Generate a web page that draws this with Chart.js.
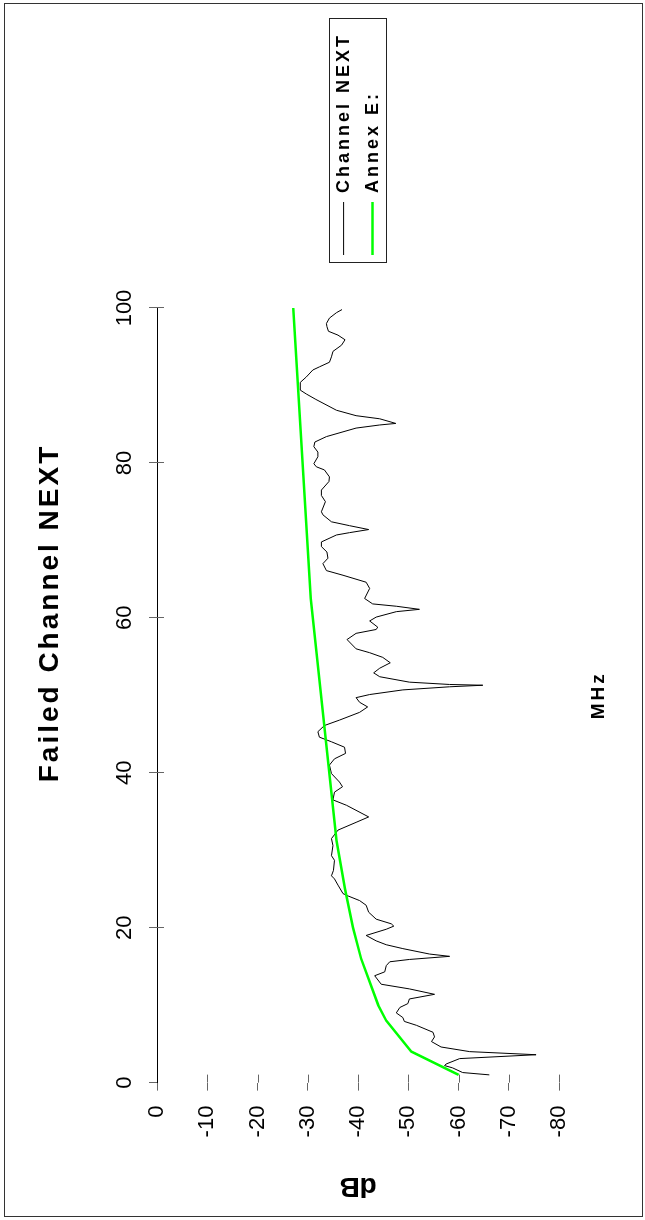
<!DOCTYPE html>
<html><head><meta charset="utf-8">
<script src="https://cdn.jsdelivr.net/npm/chart.js@4/dist/chart.umd.min.js"></script>
<style>
html,body{margin:0;padding:0;background:#fff;overflow:hidden;width:645px;height:1220px}
#wrap{position:absolute;left:0;top:0;width:1220px;height:645px;overflow:hidden;transform-origin:0 0;transform:translate(0,1220px) rotate(-90deg)}
canvas{display:block}
</style></head><body>
<div id="wrap"><canvas id="c" width="1220" height="645"></canvas></div>
<script>
// ---- data ----
const chartTitle = 'Failed Channel NEXT';
const xTitle = 'MHz';
const yTitle = 'dB';
const seriesNames = ['Channel NEXT', 'Annex E:'];
const mhzTicks = [0, 20, 40, 60, 80, 100];
const dbTicks = [0, -10, -20, -30, -40, -50, -60, -70, -80];

const nextFreq = [1.0,1.3,1.9,2.2,2.4,3.1,3.6,4.0,4.6,5.3,5.9,6.5,7.4,7.9,8.4,9.0,9.7,10.2,10.8,11.4,12.1,12.7,13.8,
 14.3,15.1,15.6,15.9,16.3,16.6,17.3,17.8,18.3,19.0,19.8,20.2,20.5,21.1,22.0,22.9,23.5,24.1,24.4,25.5,26.3,26.7,27.4,28.7,
 29.3,30.6,31.5,32.6,33.6,34.3,35.8,36.5,37.5,38.2,38.8,39.9,41.0,41.8,42.5,43.3,
 44.0,44.6,45.3,46.1,46.8,47.8,48.5,49.1,49.7,50.1,50.7,51.1,51.3,51.4,51.7,52.4,52.9,53.5,54.2,54.9,55.5,56.0,57.2,58.0,58.5,
 58.8,59.6,60.1,60.8,61.1,61.5,61.8,62.5,63.8,64.6,65.5,66.1,67.0,67.7,68.5,69.2,69.8,70.7,71.0,71.4,71.9,72.4,73.3,
 73.7,75.0,75.8,76.5,77.6,78.2,79.1,79.5,79.9,80.8,81.4,82.1,82.7,83.4,84.5,84.9,85.1,85.7,86.1,86.8,88.2,
 88.9,89.4,90.4,91.1,92.0,92.4,93.0,93.7,94.4,95.2,95.9,96.5,97.0,97.6,98.0,98.7,99.4,99.8];
const nextDb = [-66.1,-60.8,-58.8,-57.2,-57.5,-60.2,-75.4,-62.2,-56.5,-54.6,-55.2,-54.9,-51.6,-49.2,-48.9,-47.6,-48.3,-49.9,-50.2,-55.2,-50.2,-44.6,-43.3,
 -45.3,-45.6,-46.3,-50.2,-58.2,-54.2,-48.9,-45.6,-43.6,-41.6,-45.6,-47.1,-46.6,-43.6,-42.1,-41.6,-40.3,-38.0,-37.0,-36.0,-35.3,-34.7,-35.1,-35.3,
 -34.7,-35.0,-34.7,-36.0,-39.6,-42.1,-37.7,-35.0,-35.3,-36.9,-36.3,-34.7,-34.3,-35.3,-37.5,-37.3,
 -34.7,-32.3,-32.0,-33.3,-36.3,-40.3,-41.9,-40.3,-39.6,-42.3,-48.9,-58.2,-64.8,-58.2,-50.2,-44.3,-43.1,-44.3,-46.4,-44.9,-42.3,-39.6,-37.8,-39.6,-43.6,
 -43.9,-42.3,-43.6,-47.6,-52.2,-47.6,-42.9,-41.3,-42.3,-41.6,-37.0,-33.7,-33.0,-34.0,-33.8,-32.7,-32.7,-35.7,-38.3,-42.1,-38.3,-34.7,-33.0,
 -32.7,-33.5,-32.7,-32.7,-34.2,-34.3,-33.3,-31.7,-31.2,-32.0,-32.0,-31.2,-31.4,-33.7,-39.6,-44.3,-47.5,-44.3,-39.6,-35.7,-31.6,
 -29.7,-28.5,-28.5,-29.7,-31.0,-32.3,-34.3,-34.7,-35.0,-36.7,-37.4,-36.0,-34.1,-33.8,-33.7,-34.3,-35.7,-36.8];

const annexFreq = [1, 4, 8, 10, 16, 20, 25, 31.25, 62.5, 100];
const annexDb = [-60.0, -50.6, -45.6, -44.0, -40.6, -39.0, -37.4, -35.7, -30.6, -27.1];

// ---- helpers ----
const toPoints = (xs, ys) => xs.map((x, i) => ({x: x, y: ys[i]}));
const setTicks = arr => (scale) => { scale.ticks = arr.map(v => ({value: v})); };

Chart.defaults.font.family = "'Liberation Sans', Arial, sans-serif";
Chart.defaults.color = '#000';

const helperPlugin = {
  id: 'helper',
  afterLayout(chart) {
    const ca = chart.chartArea;
    const lg = chart.legend;
    if (lg) { lg.left = ca.right + 42; lg.width = 262; lg.right = lg.left + lg.width; }
    const tb = chart.titleBlock;
    if (tb) { tb.left = 0; tb.right = 1214; }
  },
  beforeDraw(chart) {
    const ctx = chart.ctx;
    ctx.save();
    ctx.fillStyle = '#fff';
    ctx.fillRect(0, 0, chart.width, chart.height);
    ctx.restore();
    ctx.letterSpacing = '3px';
  },
  beforeDatasetsDraw(chart) { chart.ctx.letterSpacing = '0px'; },
  afterDraw(chart) {
    const ctx = chart.ctx, ca = chart.chartArea;
    const xs = chart.scales.x, ys = chart.scales.y;
    ctx.save();
    ctx.letterSpacing = '0px';
    ctx.strokeStyle = '#666';
    ctx.lineWidth = 1;
    ctx.beginPath();
    mhzTicks.forEach(v => { if (v === 0) return; const p = Math.round(xs.getPixelForValue(v)) + 0.5; ctx.moveTo(p, ca.top); ctx.lineTo(p, ca.top + 7); });
    dbTicks.forEach(v => { if (v === 0) return; const p = Math.round(ys.getPixelForValue(v)) + 0.5; ctx.moveTo(ca.left, p); ctx.lineTo(ca.left + 8, p); });
    ctx.stroke();
    const lg = chart.legend;
    if (lg) {
      const pad = 11;
      const colH = (lg.columnSizes && lg.columnSizes[0]) ? lg.columnSizes[0].height : 58;
      const y0 = (lg.top + pad + lg.bottom - colH) / 2;
      const x0 = lg.left + pad - 8;
      ctx.strokeStyle = '#222';
      ctx.strokeRect(Math.round(x0) + 0.5, Math.round(y0 - 6) + 0.5, 244, 57);
    }
    // outer frame
    ctx.fillStyle = '#fff';
    ctx.fillRect(0, 0, 3, chart.height);
    ctx.fillRect(1217, 0, 3, chart.height);
    ctx.strokeStyle = '#333';
    ctx.strokeRect(3.5, 4.5, 1213, 638);
    ctx.restore();
    ctx.letterSpacing = '0px';
  }
};

new Chart(document.getElementById('c'), {
  type: 'line',
  data: {
    datasets: [
      { label: seriesNames[0], data: toPoints(nextFreq, nextDb), borderColor: '#000', backgroundColor: '#000', borderWidth: 1, pointRadius: 0, tension: 0, fill: false, order: 1 },
      { label: seriesNames[1], data: toPoints(annexFreq, annexDb), borderColor: '#00ff00', backgroundColor: '#00ff00', borderWidth: 2.5, pointRadius: 0, tension: 0, fill: false, order: 0 }
    ]
  },
  options: {
    responsive: false,
    animation: false,
    events: [],
    layout: { padding: { top: 4, left: 4, bottom: 4, right: 158 } },
    scales: {
      x: {
        type: 'linear', position: 'top', min: 0, max: 100,
        afterBuildTicks: setTicks(mhzTicks),
        ticks: { padding: 11, font: { size: 22 }, color: '#000', z: 1 },
        grid: { drawOnChartArea: false, drawTicks: true, tickLength: 8, color: '#666' },
        border: { color: '#000', width: 1 }
      },
      x2: {
        type: 'linear', position: 'bottom', min: 0, max: 100, display: true,
        ticks: { display: false },
        grid: { display: false, drawTicks: false },
        border: { display: false },
        title: { display: true, text: xTitle, color: '#000', font: { size: 19, weight: 'bold' }, padding: { top: 28, bottom: 31 } }
      },
      y: {
        type: 'linear', min: -80, max: 0,
        afterBuildTicks: setTicks(dbTicks),
        ticks: { padding: 15, font: { size: 22 }, color: '#000', z: 1 },
        grid: { drawOnChartArea: false, drawTicks: true, tickLength: 8, color: '#666', z: 1 },
        border: { color: '#000', width: 1 },
        title: { display: true, text: yTitle, color: '#000', font: { family: "'Liberation Sans Narrow', 'Liberation Sans', Arial, sans-serif", size: 28, weight: 'bold' }, padding: { top: 13, bottom: 17 } }
      }
    },
    plugins: {
      title: { display: true, text: chartTitle, color: '#000', font: { size: 28, weight: 'bold' }, padding: { top: 29, bottom: 34 } },
      legend: {
        display: true, position: 'right', align: 'center', fullSize: false, maxWidth: 150,
        labels: {
          usePointStyle: true, pointStyle: 'line', pointStyleWidth: 53, padding: 11,
          color: '#000', font: { size: 18, weight: 'bold' },
          sort: (a, b) => a.datasetIndex - b.datasetIndex
        }
      },
      tooltip: { enabled: false }
    }
  },
  plugins: [helperPlugin]
});
</script>
</body></html>
